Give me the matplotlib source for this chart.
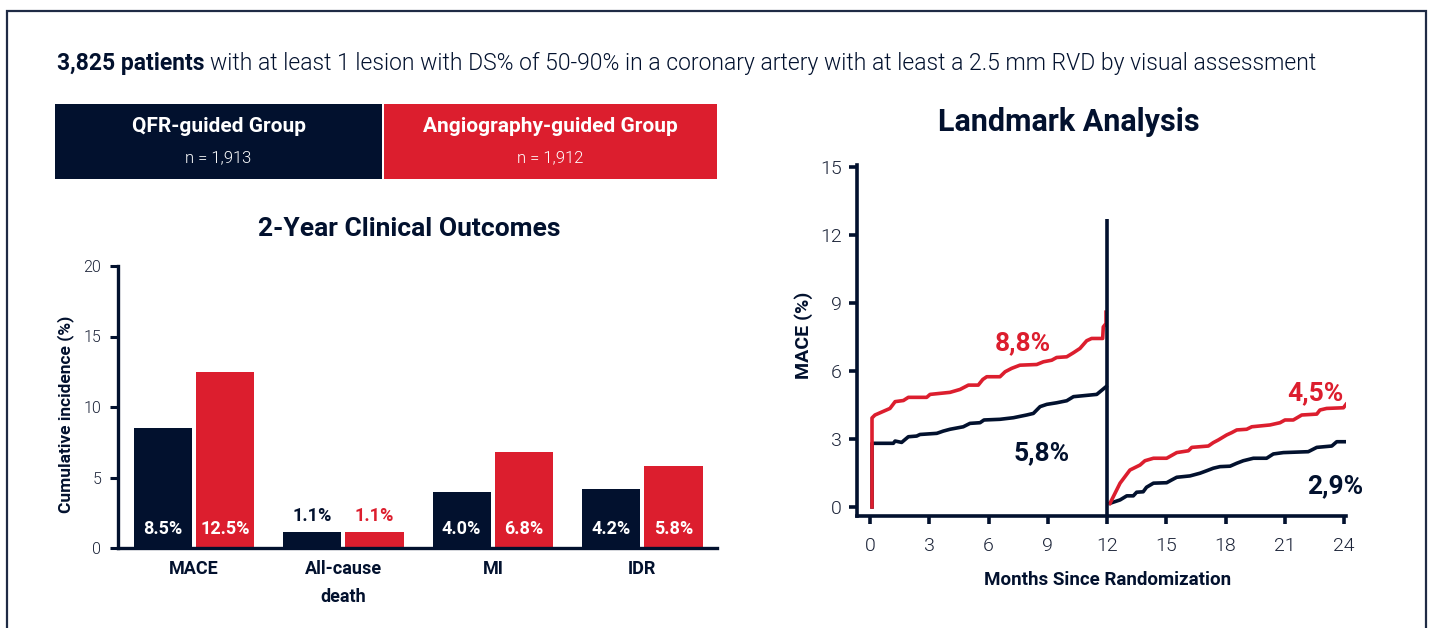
import matplotlib
matplotlib.use("Agg")
import matplotlib.pyplot as plt
from matplotlib.patches import Rectangle
import numpy as np

plt.rcParams["font.family"] = ["Roboto", "DejaVu Sans"]

NAVY = "#02112e"
RED = "#dc1e2e"
FRAME = "#1f2b45"
TICK_TXT = "#1b2338"
LIGHT = 300

W, H = 1432, 628

# --- left panel: 2-year outcomes ---
categories = ["MACE", "All-cause\ndeath", "MI", "IDR"]
qfr_vals = [8.5, 1.1, 4.0, 4.2]
angio_vals = [12.5, 1.1, 6.8, 5.8]

# --- right panel: landmark analysis (month, MACE %) ---
angio_y1_m = [0.1, 0.1, 0.25, 1.01, 1.27, 1.69, 1.94, 2.87, 3.04, 4.05, 4.56, 4.98,
              5.48, 5.71, 5.91, 6.58, 6.84, 7.17, 7.59, 8.44, 8.78, 9.2, 9.45,
              9.96, 10.3, 10.63, 10.97, 11.22, 11.78, 11.81, 11.95, 11.95]
angio_y1_v = [0.0, 3.93, 4.06, 4.35, 4.65, 4.7, 4.84, 4.84, 4.97, 5.06, 5.19, 5.38,
              5.38, 5.63, 5.75, 5.75, 5.97, 6.12, 6.26, 6.29, 6.41, 6.48, 6.6,
              6.63, 6.81, 7.0, 7.34, 7.44, 7.44, 7.95, 8.1, 8.6]
qfr_y1_m = [0.1, 0.1, 1.18, 1.27, 1.6, 1.94, 2.36, 2.53, 3.38, 3.71, 4.05, 4.72,
            5.06, 5.57, 5.77, 6.58, 7.26, 7.93, 8.27, 8.61, 8.95, 9.45, 9.96,
            10.3, 11.48, 11.95]
qfr_y1_v = [0.0, 2.81, 2.81, 2.91, 2.85, 3.1, 3.13, 3.2, 3.25, 3.35, 3.43, 3.54,
            3.69, 3.72, 3.84, 3.87, 3.94, 4.06, 4.13, 4.43, 4.53, 4.6, 4.69,
            4.87, 4.97, 5.31]
angio_y2_m = [12.15, 12.66, 13.16, 13.67, 13.92, 14.35, 15.02, 15.53, 16.12, 16.29,
              17.13, 17.38, 17.64, 18.06, 18.31, 18.57, 19.07, 19.33, 20.25, 20.76,
              21.01, 21.43, 21.86, 22.62, 22.78, 23.12, 23.97, 24.1]
angio_y2_v = [0.16, 1.05, 1.63, 1.85, 2.04, 2.15, 2.15, 2.4, 2.48, 2.63,
              2.69, 2.84, 2.96, 3.18, 3.28, 3.4, 3.43, 3.54, 3.62, 3.72,
              3.84, 3.84, 4.06, 4.1, 4.28, 4.35, 4.38, 4.53]
qfr_y2_m = [12.15, 12.66, 13.0, 13.33, 13.5, 13.83, 14.0, 14.35, 15.02, 15.27, 15.53,
            16.2, 16.71, 17.05, 17.38, 17.72, 18.23, 18.57, 18.9, 19.41, 20.08,
            20.42, 20.93, 22.19, 22.62, 23.38, 23.63, 24.1]
qfr_y2_v = [0.16, 0.31, 0.49, 0.49, 0.65, 0.67, 0.87, 1.05, 1.07, 1.19, 1.31,
            1.37, 1.49, 1.6, 1.71, 1.78, 1.8, 1.93, 2.04, 2.15, 2.15,
            2.34, 2.4, 2.44, 2.63, 2.69, 2.88, 2.88]

end_labels = ["8,8%", "5,8%", "4,5%", "2,9%"]


def px_rect(x0, y0, x1, y1):
    """pixel box (top-left origin) -> figure fraction rect"""
    return [x0 / W, 1 - y1 / H, (x1 - x0) / W, (y1 - y0) / H]


fig = plt.figure(figsize=(W / 100, H / 100), dpi=100)

# outer frame (runs off the bottom edge)
fig.add_artist(Rectangle((7 / W, -0.05), (1426 - 7) / W, 1.05 - 11 / H,
                         transform=fig.transFigure, fill=False,
                         edgecolor=FRAME, linewidth=1.6))

# header line: bold lead-in, light remainder
renderer = fig.canvas.get_renderer()
y_head = 1 - 70 / H
t1 = fig.text(57 / W, y_head, "3,825 patients", fontsize=16.5, fontweight="bold",
              color=NAVY, va="baseline")
bb = t1.get_window_extent(renderer)
fig.text(bb.x1 / W + 5 / W, y_head,
         "with at least 1 lesion with DS% of 50-90% in a coronary artery with at least "
         "a 2.5 mm RVD by visual assessment",
         fontsize=16.5, fontweight=LIGHT, color=NAVY, va="baseline")

# group boxes
for (x0, x1), color, name, n in [((55, 382), NAVY, "QFR-guided Group", "n = 1,913"),
                                 ((384, 717), RED, "Angiography-guided Group", "n = 1,912")]:
    fig.add_artist(Rectangle((x0 / W, 1 - 179 / H), (x1 - x0) / W, 75 / H,
                             transform=fig.transFigure, facecolor=color,
                             edgecolor="none"))
    cx = (x0 + x1) / 2 / W
    fig.text(cx, 1 - 127 / H, name, fontsize=15, fontweight="bold", color="white",
             ha="center", va="center")
    fig.text(cx, 1 - 158 / H, n, fontsize=12, fontweight=LIGHT, color="white",
             ha="center", va="center")

# ---------------- bar chart ----------------
fig.text(409 / W, 1 - 229 / H, "2-Year Clinical Outcomes", fontsize=19,
         fontweight="bold", color=NAVY, ha="center", va="center")

ax = fig.add_axes(px_rect(118, 266, 717, 548))
x = np.arange(len(categories))
bw = 0.39
off = 0.2085
b1 = ax.bar(x - off, qfr_vals, bw, color=NAVY)
b2 = ax.bar(x + off, angio_vals, bw, color=RED)

for bars, vals, col in [(b1, qfr_vals, NAVY), (b2, angio_vals, RED)]:
    for bar, v in zip(bars, vals):
        cx = bar.get_x() + bar.get_width() / 2
        if v < 2:
            ax.annotate(f"{v:.1f}%", xy=(cx, v), xytext=(0, 12),
                        textcoords="offset points", ha="center", va="center",
                        fontsize=13, fontweight="bold", color=col)
        else:
            ax.annotate(f"{v:.1f}%", xy=(cx, 0), xytext=(0, 14),
                        textcoords="offset points", ha="center", va="center",
                        fontsize=13, fontweight="bold", color="white")

ax.set_xlim(-0.508, 3.5)
ax.set_ylim(0, 20)
ax.set_yticks([0, 5, 10, 15, 20])
ax.set_xticks(x)
ax.set_xticklabels(categories, fontsize=13, fontweight="bold", color=NAVY,
                   linespacing=1.7, va="top")
ax.tick_params(axis="x", length=0, pad=9)
ax.tick_params(axis="y", length=6, width=2.2, color=NAVY, pad=6,
               labelsize=11.5, labelcolor=TICK_TXT)
for lab in ax.get_yticklabels():
    lab.set_fontweight(LIGHT)
ax.spines[["top", "right"]].set_visible(False)
for s in ["left", "bottom"]:
    ax.spines[s].set_linewidth(2.4)
    ax.spines[s].set_color(NAVY)
fig.text(66 / W, 1 - 414 / H, "Cumulative incidence (%)", rotation=90,
         fontsize=12.5, fontweight="bold", color=NAVY, ha="center", va="center")

# ---------------- landmark curves ----------------
fig.text(1069 / W, 1 - 122 / H, "Landmark Analysis", fontsize=22,
         fontweight="bold", color=NAVY, ha="center", va="center")

ax2 = fig.add_axes(px_rect(857, 165, 1346, 516))
ax2.plot(qfr_y1_m, qfr_y1_v, color=NAVY, lw=2.6, zorder=3)
ax2.plot(qfr_y2_m, qfr_y2_v, color=NAVY, lw=2.6, zorder=3)
ax2.plot(angio_y1_m, angio_y1_v, color=RED, lw=2.6, zorder=4)
ax2.plot(angio_y2_m, angio_y2_v, color=RED, lw=2.6, zorder=4)
ax2.vlines(12, -0.4, 12.7, color=NAVY, lw=2.6, zorder=5)

ax2.text(7.75, 7.23, end_labels[0], color=RED, fontsize=19, fontweight="bold",
         ha="center", va="center")
ax2.text(8.71, 2.38, end_labels[1], color=NAVY, fontsize=19, fontweight="bold",
         ha="center", va="center")
ax2.text(22.53, 5.03, end_labels[2], color=RED, fontsize=19, fontweight="bold",
         ha="center", va="center")
ax2.text(23.54, 0.93, end_labels[3], color=NAVY, fontsize=19, fontweight="bold",
         ha="center", va="center")

ax2.set_xlim(-0.66, 24.1)
ax2.set_ylim(-0.4, 15.1)
ax2.set_xticks(range(0, 25, 3))
ax2.set_yticks(range(0, 16, 3))
ax2.tick_params(axis="both", length=6, width=2.6, color=NAVY, labelsize=14,
                labelcolor=TICK_TXT)
ax2.tick_params(axis="x", pad=9)
ax2.tick_params(axis="y", pad=5)
for lab in ax2.get_xticklabels() + ax2.get_yticklabels():
    lab.set_fontweight(LIGHT)
ax2.spines[["top", "right"]].set_visible(False)
for s in ["left", "bottom"]:
    ax2.spines[s].set_linewidth(2.6)
    ax2.spines[s].set_color(NAVY)
ax2.set_ylabel("MACE (%)", fontsize=14, fontweight="bold", color=NAVY)
ax2.yaxis.set_label_coords((813 - 857) / (1346 - 857), (516 - 335) / (516 - 165))
ax2.set_xlabel("Months Since Randomization", fontsize=13.5, fontweight="bold",
               color=NAVY)
ax2.xaxis.set_label_coords((1108 - 857) / (1346 - 857), -(571 - 516) / (516 - 165))

fig.savefig("out.png", dpi=100)
